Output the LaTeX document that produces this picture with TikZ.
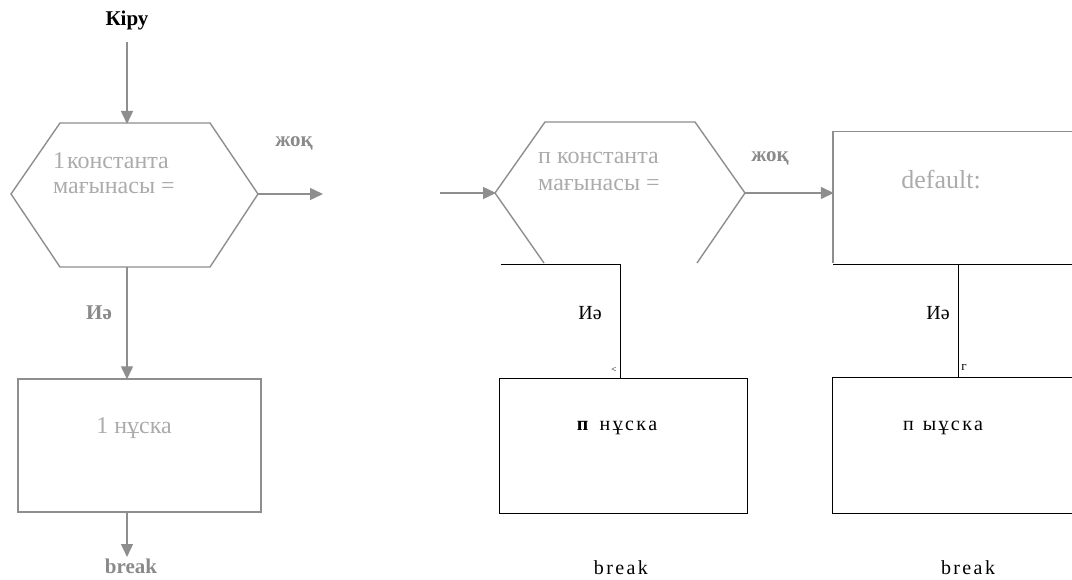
\documentclass[tikz,border=0pt]{standalone}
\usepackage{fontspec}
\setmainfont{Liberation Serif}
\usetikzlibrary{arrows.meta}
\definecolor{scanline}{HTML}{8E8E8E}
\definecolor{scantext}{HTML}{ABABAB}
\definecolor{scanbold}{HTML}{8A8A8A}
\begin{document}
\begin{tikzpicture}[x=1pt,y=-1pt,
  gline/.style={draw=scanline,line width=1.4pt},
  garrow/.style={gline,-{Triangle[width=12pt,length=13pt]},shorten >=-1pt},
  bline/.style={draw=black,line width=0.9pt},
  gtxt/.style={text=scantext,font=\fontsize{24}{26}\selectfont,inner sep=0pt},
  gbold/.style={text=scanbold,font=\fontsize{21}{24}\selectfont\bfseries,inner sep=0pt},
  btxt/.style={text=black,font=\fontsize{20}{22}\selectfont\addfontfeature{LetterSpace=12},inner sep=0pt},
  boxshape/.style={minimum width=#1,minimum height=135pt,inner sep=0pt}]
\useasboundingbox (0,0) rectangle (1072,580);

% ---------- left (scanned) part ----------
\node[inner sep=0pt,font=\fontsize{21}{23}\selectfont\bfseries] (kiru) at (127,20) {Кіру};
\coordinate (kiruend) at (127,42);
\coordinate (h1tl) at (60,123);
\coordinate (h1tr) at (210,123);
\coordinate (h1r) at (258,194);
\coordinate (h1br) at (210,267);
\coordinate (h1bl) at (60,267);
\coordinate (h1l) at (11,194);
\coordinate (h1t) at (127,123);
\coordinate (h1b) at (127,267);
\draw[gline] (h1tl) -- (h1tr) -- (h1r) -- (h1br) -- (h1bl) -- (h1l) -- cycle;
\draw[garrow] (kiruend) -- (h1t);
\node[gtxt,anchor=west] (h1txta) at (53,161) {1\hspace{2pt}константа};
\node[gtxt,anchor=west] (h1txtb) at (53,188) {мағынасы =};
\node[gbold] (no1) at (294,143) {жоқ};
\coordinate (h1out) at (322,194);
\draw[garrow] (h1r) -- (h1out);

\node[gline,boxshape=243pt,minimum height=133pt] (b1) at (139.5,445.5) {};
\node[gtxt] (b1txt) at (134,428) {1 нұска};
\draw[garrow] (h1b) -- (h1b |- b1.north);
\node[gbold] (yes1) at (99,313) {Иә};
\coordinate (brk1end) at (127,556);
\draw[garrow] (h1b |- b1.south) -- (brk1end);
\node[gbold,font=\fontsize{21}{23}\selectfont\bfseries] (brk1) at (131,566) {break};

% ---------- middle hexagon (scanned) ----------
\coordinate (h2tl) at (545,122);
\coordinate (h2tr) at (695,122);
\coordinate (h2r) at (745,193);
\coordinate (h2br) at (697,263);
\coordinate (h2bl) at (544,263);
\coordinate (h2l) at (495,193);
\draw[gline] (h2bl) -- (h2l) -- (h2tl) -- (h2tr) -- (h2r) -- (h2br);
\coordinate (inm) at (440,193);
\draw[garrow] (inm) -- (h2l);
\node[gtxt,anchor=west] (h2txta) at (538,158) {п константа};
\node[gtxt,anchor=west] (h2txtb) at (538,185) {мағынасы =};
\node[gbold] (no2) at (770,158) {жоқ};

% default box (open at the right edge)
\node[boxshape=239pt,minimum height=131pt] (dflt) at (952.5,197.5) {};
\draw[gline] (dflt.north east) -- (dflt.north west) -- (dflt.south west);
\node[gtxt,font=\fontsize{26}{28}\selectfont] (dflttxt) at (941,180) {default:};
\draw[garrow] (h2r) -- (h2r -| dflt.west);

% ---------- black (re-typed) part ----------
\node[bline,boxshape=248pt] (bn) at (623,445.5) {};
\node[btxt] (bntxt) at (617,428) {\textbf{п}\hspace{9pt}нұска};
\coordinate (c1) at (501,264);
\coordinate (c2) at (620,264);
\draw[bline] (c1) -- (c2) -- (c2 |- bn.north);
\node[btxt,font=\fontsize{20}{22}\selectfont] (yes2) at (590,313) {Иә};
\node[inner sep=0pt,font=\fontsize{9}{10}\selectfont] (lt) at (614,370) {<};
\node[btxt] (brk2) at (621,568) {break};

\node[boxshape=239pt] (bd) at (952.5,445.5) {};
\draw[bline] (bd.north east) -- (bd.north west) -- (bd.south west) -- (bd.south east);
\node[btxt] (bdtxt) at (943,428) {п\hspace{9pt}ыұска};
\coordinate (d1) at (833,264);
\coordinate (d2) at (1072,264);
\coordinate (d3) at (958,264);
\draw[bline] (d1) -- (d2);
\draw[bline] (d3) -- (d3 |- bd.north);
\node[btxt,font=\fontsize{20}{22}\selectfont] (yes3) at (938,313) {Иә};
\node[inner sep=0pt,font=\fontsize{13}{14}\selectfont] (gg) at (964,368) {г};
\node[btxt] (brk3) at (968,568) {break};
\end{tikzpicture}
\end{document}
